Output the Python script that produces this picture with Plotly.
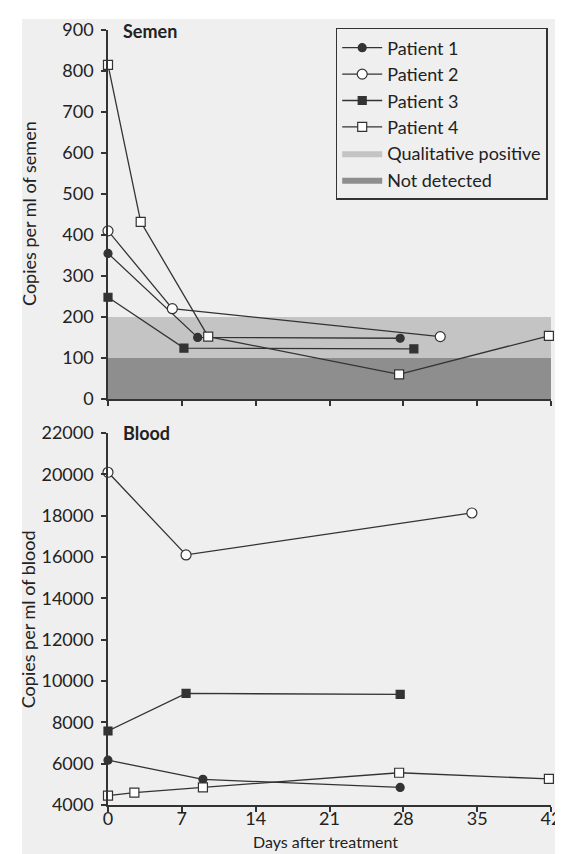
import plotly.graph_objects as go

# ---- data ----
day_ticks = [0, 7, 14, 21, 28, 35, 42]

semen_p1_x = [0, 8.5, 27.7]
semen_p1_y = [355, 150, 148]
semen_p2_x = [0, 6.1, 31.5]
semen_p2_y = [410, 220, 152]
semen_p3_x = [0, 7.2, 29.0]
semen_p3_y = [248, 124, 122]
semen_p4_x = [0, 3.1, 9.5, 27.6, 41.8]
semen_p4_y = [815, 432, 152, 60, 154]

blood_p1_x = [0, 9.0, 27.7]
blood_p1_y = [6170, 5240, 4850]
blood_p2_x = [0, 7.4, 34.5]
blood_p2_y = [20100, 16100, 18130]
blood_p3_x = [0, 7.4, 27.7]
blood_p3_y = [7580, 9400, 9350]
blood_p4_x = [0, 2.5, 9.0, 27.6, 41.8]
blood_p4_y = [4450, 4600, 4850, 5560, 5260]

band_qual = [100, 200]       # qualitative positive range
band_nd = [0, 100]           # not detected range

names = ["Patient 1", "Patient 2", "Patient 3", "Patient 4"]

# ---- styles ----
INK = "#333333"
FONT = "Lato"
styles = [
    dict(symbol="circle", size=8, color=INK, line=dict(color=INK, width=1.2)),
    dict(symbol="circle", size=10, color="white", line=dict(color=INK, width=1.2)),
    dict(symbol="square", size=8, color=INK, line=dict(color=INK, width=1.2)),
    dict(symbol="square", size=9, color="white", line=dict(color=INK, width=1.2)),
]

fig = go.Figure()

# bands (semen panel)
fig.add_trace(go.Scatter(
    x=[0, 42, 42, 0, 0], y=[band_qual[0], band_qual[0], band_qual[1], band_qual[1], band_qual[0]],
    mode="lines", fill="toself", fillcolor="#c4c4c4", line=dict(width=0),
    name="Qualitative positive", legendrank=5, hoverinfo="skip", xaxis="x", yaxis="y"))
fig.add_trace(go.Scatter(
    x=[0, 42, 42, 0, 0], y=[band_nd[0], band_nd[0], band_nd[1], band_nd[1], band_nd[0]],
    mode="lines", fill="toself", fillcolor="#8e8e8e", line=dict(width=0),
    name="Not detected", legendrank=6, hoverinfo="skip", xaxis="x", yaxis="y"))

semen = [(semen_p1_x, semen_p1_y), (semen_p2_x, semen_p2_y),
         (semen_p3_x, semen_p3_y), (semen_p4_x, semen_p4_y)]
blood = [(blood_p1_x, blood_p1_y), (blood_p2_x, blood_p2_y),
         (blood_p3_x, blood_p3_y), (blood_p4_x, blood_p4_y)]

for i, (nm, st) in enumerate(zip(names, styles)):
    sx, sy = semen[i]
    bx, by = blood[i]
    fig.add_trace(go.Scatter(
        x=sx, y=sy, mode="lines+markers", name=nm, legendgroup=nm, legendrank=i + 1,
        line=dict(color=INK, width=1.3), marker=st, cliponaxis=False,
        xaxis="x", yaxis="y"))
    fig.add_trace(go.Scatter(
        x=bx, y=by, mode="lines+markers", name=nm, legendgroup=nm, showlegend=False,
        line=dict(color=INK, width=1.3), marker=st, cliponaxis=False,
        xaxis="x2", yaxis="y2"))

axis_common = dict(showline=True, linecolor=INK, linewidth=1.5, ticks="outside",
                   ticklen=5, tickwidth=1.5, tickcolor=INK, showgrid=False,
                   zeroline=False, ticklabeloverflow="allow",
                   tickfont=dict(family=FONT, size=18, color="#222"))

fig.update_layout(
    width=563, height=854,
    margin=dict(l=100, r=10, t=21, b=57),
    paper_bgcolor="white", plot_bgcolor="rgba(0,0,0,0)",
    font=dict(family=FONT, size=17, color="#222"),
    xaxis=dict(domain=[0, 1], anchor="y", range=[0, 42], tickvals=day_ticks,
               showticklabels=False, **axis_common),
    yaxis=dict(domain=[0.524, 1], anchor="x", range=[0, 900], dtick=100,
               ticklabelstandoff=4, **axis_common),
    xaxis2=dict(domain=[0, 1], anchor="y2", range=[0, 42], tickvals=day_ticks,
                ticklabelstandoff=-8, **axis_common),
    yaxis2=dict(domain=[0, 0.48], anchor="x2", range=[4000, 22000], dtick=2000,
                tickformat="d", ticklabelstandoff=4, **axis_common),
    legend=dict(x=0.514, y=1.0026, xanchor="left", yanchor="top",
                bordercolor=INK, borderwidth=1.5, bgcolor="rgba(0,0,0,0)",
                font=dict(family=FONT, size=18, color="#222"),
                itemwidth=40, tracegroupgap=0, traceorder="normal"),
    showlegend=True,
    shapes=[dict(type="rect", xref="paper", yref="paper",
                 x0=-0.194, x1=1.03, y0=-0.08, y1=1.0142,
                 fillcolor="#efefef", line=dict(width=0), layer="below")],
    annotations=[
        dict(text="<b>Semen</b>", xref="paper", yref="paper", x=0.0287, y=0.999,
             xanchor="left", yanchor="middle", showarrow=False,
             font=dict(family=FONT, size=18, color="#222")),
        dict(text="<b>Blood</b>", xref="paper", yref="paper", x=0.0287, y=0.4794,
             xanchor="left", yanchor="middle", showarrow=False,
             font=dict(family=FONT, size=18, color="#222")),
        dict(text="Copies per ml of semen", xref="paper", yref="paper", x=-0.18, y=0.763,
             xanchor="center", yanchor="middle", textangle=-90, showarrow=False,
             font=dict(family=FONT, size=18, color="#222")),
        dict(text="Copies per ml of blood", xref="paper", yref="paper", x=-0.18, y=0.24,
             xanchor="center", yanchor="middle", textangle=-90, showarrow=False,
             font=dict(family=FONT, size=18, color="#222")),
        dict(text="Days after treatment", xref="paper", yref="paper", x=0.49, y=-0.0625,
             xanchor="center", yanchor="bottom", showarrow=False,
             font=dict(family=FONT, size=16, color="#222")),
    ],
)

fig.write_html("out.html")
